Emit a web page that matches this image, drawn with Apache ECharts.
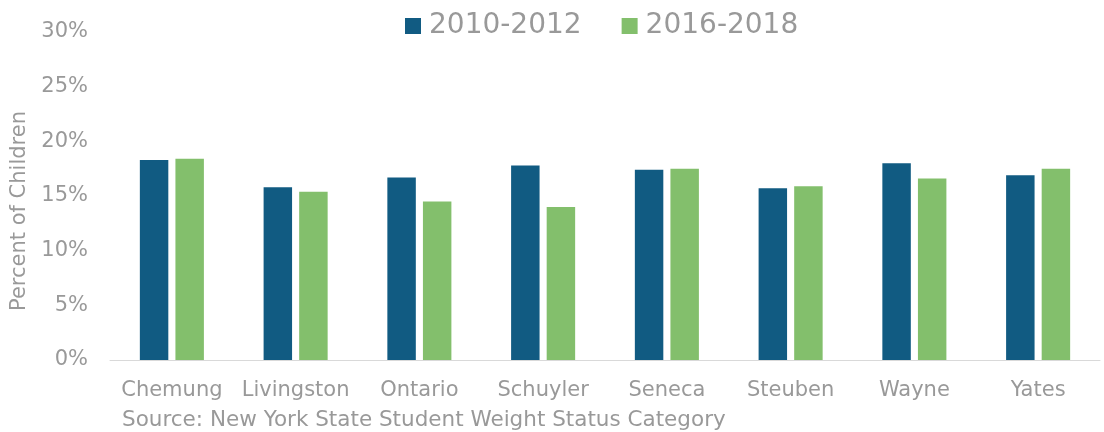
<!DOCTYPE html>
<html>
<head>
<meta charset="utf-8">
<script src="https://cdn.jsdelivr.net/npm/echarts@6/dist/echarts.min.js"></script>
<style>
  html, body { margin: 0; padding: 0; background: #fff; }
  #main { width: 1104px; height: 432px; }
</style>
</head>
<body>
<div id="main"></div>
<script>
// 数据
var counties = ['Chemung', 'Livingston', 'Ontario', 'Schuyler', 'Seneca', 'Steuben', 'Wayne', 'Yates'];
var period1 = [18.3, 15.8, 16.7, 17.8, 17.4, 15.7, 18.0, 16.9];
var period2 = [18.4, 15.4, 14.5, 14.0, 17.5, 15.9, 16.6, 17.5];
var seriesNames = ['2010-2012', '2016-2018'];

var grey = '#999999';
var font = 'DejaVu Sans';

var myChart = echarts.init(document.getElementById('main'));

var option = {
  animation: false,
  textStyle: { fontFamily: font },
  title: {
    text: 'Source: New York State Student Weight Status Category',
    left: 117,
    top: 404,
    textStyle: { color: grey, fontSize: 21.5, fontWeight: 'normal', fontFamily: font }
  },
  legend: {
    left: 400,
    top: 7,
    itemWidth: 16,
    itemHeight: 16,
    itemGap: 40,
    icon: 'rect',
    textStyle: { color: grey, fontSize: 28, fontFamily: font, padding: [0, 0, 0, 3] },
    data: seriesNames
  },
  grid: { left: 110, right: 4, top: 32, bottom: 72, outerBoundsMode: 'none' },
  xAxis: {
    type: 'category',
    data: counties,
    axisTick: { show: false },
    axisLine: { lineStyle: { color: '#D9D9D9', width: 1 } },
    axisLabel: { color: grey, fontSize: 21, margin: 20, interval: 0, fontFamily: font }
  },
  yAxis: {
    type: 'value',
    min: 0,
    max: 30,
    interval: 5,
    name: 'Percent of Children',
    nameLocation: 'middle',
    nameGap: 79,
    nameTextStyle: { color: grey, fontSize: 21, fontFamily: font, padding: [0, 30, 0, 0] },
    splitLine: { show: false },
    axisLine: { show: false },
    axisTick: { show: false },
    axisLabel: { color: grey, fontSize: 21, margin: 22, fontFamily: font, formatter: '{value}%' }
  },
  series: [
    {
      name: seriesNames[0],
      type: 'bar',
      data: period1,
      barWidth: '23%',
      barGap: '25%',
      itemStyle: { color: '#115B82' }
    },
    {
      name: seriesNames[1],
      type: 'bar',
      data: period2,
      barWidth: '23%',
      itemStyle: { color: '#83BF6C' }
    }
  ]
};
myChart.setOption(option);
</script>
</body>
</html>
